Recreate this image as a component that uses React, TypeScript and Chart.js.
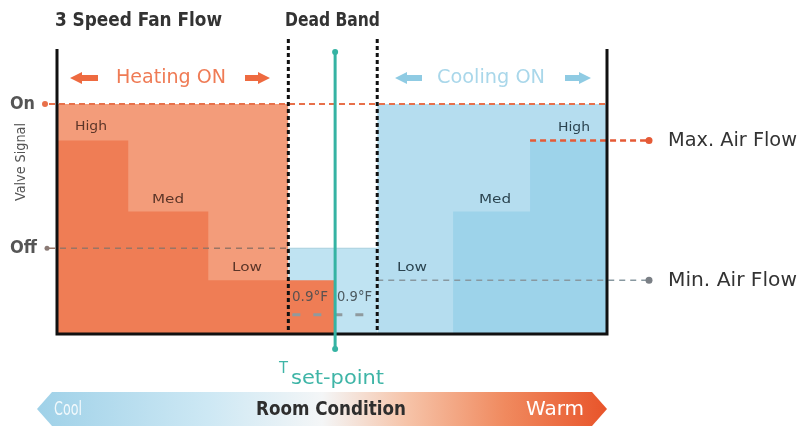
import React, { useEffect, useRef } from "react";
import { Chart, registerables } from "chart.js";

Chart.register(...registerables);

// Temperature offset from set-point (°F) of each band edge
const HEAT_EDGES = [-5.35, -3.98, -2.44, 0];
const HEAT_LEVELS = [84, 53, 23, 23];
const HEAT_ZONE = [-5.35, -0.9];
const DEAD_BAND = [-0.9, 0.81];
const COOL_ZONE = [0.81, 5.23];
const COOL_EDGES = [2.27, 3.75, 5.23];
const COOL_LEVELS = [53, 84, 84];
// Valve signal levels (%)
const ON_LEVEL = 100;
const OFF_LEVEL = 37;
const MIN_FLOW = 23;
const MAX_FLOW = 84;
const SETPOINT = 0;

const FAM = "'DejaVu Sans Condensed', 'Liberation Sans Narrow', Arial, sans-serif";

function txt(ctx: CanvasRenderingContext2D, s: string, left: number, cy: number, size: number, width: number, color: string, weight = "normal") {
  ctx.save();
  ctx.font = `${weight} ${size}px ${FAM}`;
  ctx.textBaseline = "middle";
  ctx.textAlign = "left";
  ctx.fillStyle = color;
  const w = ctx.measureText(s).width;
  const k = width / w;
  ctx.translate(left, cy);
  ctx.scale(k, 1);
  ctx.fillText(s, 0, 0);
  ctx.restore();
}

function hline(ctx: CanvasRenderingContext2D, x1: number, x2: number, y: number, color: string, w: number, dash: number[]) {
  ctx.save();
  ctx.strokeStyle = color;
  ctx.lineWidth = w;
  ctx.setLineDash(dash);
  ctx.beginPath();
  ctx.moveTo(x1, y);
  ctx.lineTo(x2, y);
  ctx.stroke();
  ctx.restore();
}

function vline(ctx: CanvasRenderingContext2D, x: number, y1: number, y2: number, color: string, w: number, dash: number[]) {
  ctx.save();
  ctx.strokeStyle = color;
  ctx.lineWidth = w;
  ctx.setLineDash(dash);
  ctx.beginPath();
  ctx.moveTo(x, y1);
  ctx.lineTo(x, y2);
  ctx.stroke();
  ctx.restore();
}

function dot(ctx: CanvasRenderingContext2D, x: number, y: number, r: number, color: string) {
  ctx.save();
  ctx.fillStyle = color;
  ctx.beginPath();
  ctx.arc(x, y, r, 0, Math.PI * 2);
  ctx.fill();
  ctx.restore();
}

function arrow(ctx: CanvasRenderingContext2D, tip: number, tail: number, cy: number, color: string) {
  const dir = tail > tip ? 1 : -1;
  const head = 12 * dir;
  ctx.save();
  ctx.fillStyle = color;
  ctx.beginPath();
  ctx.moveTo(tip, cy);
  ctx.lineTo(tip + head, cy - 6);
  ctx.lineTo(tip + head, cy - 3);
  ctx.lineTo(tail, cy - 3);
  ctx.lineTo(tail, cy + 3);
  ctx.lineTo(tip + head, cy + 3);
  ctx.lineTo(tip + head, cy + 6);
  ctx.closePath();
  ctx.fill();
  ctx.restore();
}

const overlay = {
  id: "overlay",
  beforeDraw(chart: any) {
    const ctx = chart.ctx;
    ctx.save();
    ctx.fillStyle = "#ffffff";
    ctx.fillRect(0, 0, chart.width, chart.height);
    ctx.restore();
  },
  afterDatasetsDraw(chart: any) {
    const ctx: CanvasRenderingContext2D = chart.ctx;
    const xs = chart.scales.x;
    const ys = chart.scales.y;
    const ca = chart.chartArea;
    const X = (v: number) => xs.getPixelForValue(v);
    const Y = (v: number) => ys.getPixelForValue(v);

    const yOn = Y(ON_LEVEL);
    const yOff = Y(OFF_LEVEL);
    const yMin = Y(MIN_FLOW);
    const yMax = Y(MAX_FLOW);
    const xDb1 = X(DEAD_BAND[0]);
    const xDb2 = X(DEAD_BAND[1]);
    const xSp = X(SETPOINT);

    // reference dashed lines
    hline(ctx, ca.left - 8, ca.right, yOn, "#e8704a", 2, [6, 4]);
    dot(ctx, ca.left - 12, yOn, 3, "#e8704a");
    hline(ctx, ca.left - 8, xDb1, yOff, "#9a7565", 1.5, [6, 5]);
    dot(ctx, ca.left - 10, yOff, 2.5, "#8a7a75");
    hline(ctx, xDb1, xDb2, yOff, "#a9cfdd", 1.2, []);
    hline(ctx, xDb2, ca.right + 40, yMin, "#8898a0", 1.5, [6, 5]);
    dot(ctx, ca.right + 42, yMin, 3.5, "#7a7f85");
    hline(ctx, X(COOL_EDGES[1]), ca.right + 40, yMax, "#e55a36", 2.5, [6, 4]);
    dot(ctx, ca.right + 42, yMax, 3.5, "#e55a36");
    // small grey dashes inside dead band
    hline(ctx, xDb1 + 4, xDb2 - 8, Y(8), "#8f9a9e", 3, [8, 13]);

    // axis frame
    ctx.save();
    ctx.strokeStyle = "#111";
    ctx.lineWidth = 3;
    ctx.beginPath();
    ctx.moveTo(ca.left, ca.top);
    ctx.lineTo(ca.left, ca.bottom + 1);
    ctx.lineTo(ca.right, ca.bottom + 1);
    ctx.lineTo(ca.right, ca.top);
    ctx.stroke();
    ctx.restore();

    // dead band borders
    vline(ctx, xDb1, ca.top - 10, ca.bottom + 2, "#111", 3, [4, 3]);
    vline(ctx, xDb2, ca.top - 10, ca.bottom + 2, "#111", 3, [4, 3]);

    // set-point line
    vline(ctx, xSp, ca.top + 2, ca.bottom + 16, "#35b3a3", 3, []);
    dot(ctx, xSp, ca.top + 3, 3, "#35b3a3");
    dot(ctx, xSp, ca.bottom + 16, 3, "#35b3a3");

    // titles
    txt(ctx, "3 Speed Fan Flow", 55, 21, 19, 167, "#333", "bold");
    txt(ctx, "Dead Band", 285, 21, 19, 95, "#333", "bold");

    txt(ctx, "Heating ON", 116, 78, 20, 110, "#ef7b55");
    arrow(ctx, 70, 98, 78, "#ee6a40");
    arrow(ctx, 270, 245, 78, "#ee6a40");
    txt(ctx, "Cooling ON", 437, 78, 20, 108, "#a9d7ea");
    arrow(ctx, 395, 422, 78, "#8fcbe3");
    arrow(ctx, 591, 565, 78, "#8fcbe3");

    txt(ctx, "On", 10, yOn, 18, 25, "#555", "bold");
    txt(ctx, "Off", 10, yOff, 18, 27, "#555", "bold");

    ctx.save();
    ctx.translate(21, 162);
    ctx.rotate(-Math.PI / 2);
    txt(ctx, "Valve Signal", -39, 0, 14, 78, "#555");
    ctx.restore();

    // step labels
    txt(ctx, "High", 75, 127, 13, 32, "#5b3528");
    txt(ctx, "Med", 152, 200, 13, 32, "#5b3528");
    txt(ctx, "Low", 232, 268, 13, 30, "#5b3528");
    txt(ctx, "High", 558, 128, 13, 32, "#2b4450");
    txt(ctx, "Med", 479, 200, 13, 32, "#2b4450");
    txt(ctx, "Low", 397, 268, 13, 30, "#2b4450");
    txt(ctx, "0.9°F", 292, 297, 14, 36, "#5a5250");
    txt(ctx, "0.9°F", 337, 297, 14, 35, "#4d5a60");

    txt(ctx, "Max. Air Flow", 668, yMax, 20, 129, "#333");
    txt(ctx, "Min. Air Flow", 668, yMin, 20, 129, "#333");

    txt(ctx, "T", 279, 369, 15, 9, "#3fb5a7");
    txt(ctx, "set-point", 291, 379, 19, 93, "#3fb5a7");

    // room condition arrow
    ctx.save();
    const g = ctx.createLinearGradient(37, 0, 607, 0);
    g.addColorStop(0, "#9fd1e8");
    g.addColorStop(0.3, "#cde8f4");
    g.addColorStop(0.5, "#f4f6f7");
    g.addColorStop(0.65, "#f6c3a8");
    g.addColorStop(0.82, "#f08a5f");
    g.addColorStop(1, "#e8542a");
    ctx.fillStyle = g;
    ctx.beginPath();
    ctx.moveTo(37, 409);
    ctx.lineTo(52, 392);
    ctx.lineTo(592, 392);
    ctx.lineTo(607, 409);
    ctx.lineTo(592, 426);
    ctx.lineTo(52, 426);
    ctx.closePath();
    ctx.fill();
    ctx.restore();
    txt(ctx, "Cool", 54, 410, 20, 28, "rgba(255,255,255,0.85)");
    txt(ctx, "Room Condition", 256, 410, 20, 150, "#2e2e2e", "bold");
    txt(ctx, "Warm", 526, 410, 20, 58, "#ffffff");
  },
};

export default function App() {
  const ref = useRef<HTMLCanvasElement | null>(null);

  useEffect(() => {
    if (!ref.current) return;
    const heatSteps = HEAT_EDGES.map((x, i) => ({ x, y: HEAT_LEVELS[i] }));
    const coolSteps = COOL_EDGES.map((x, i) => ({ x, y: COOL_LEVELS[i] }));
    const chart = new Chart(ref.current, {
      type: "line",
      data: {
        datasets: [
          {
            label: "Heating steps",
            data: heatSteps,
            stepped: "before",
            fill: "origin",
            backgroundColor: "#ef7d55",
            borderWidth: 0,
            pointRadius: 0,
            order: 1,
          },
          {
            label: "Cooling steps",
            data: coolSteps,
            stepped: "before",
            fill: "origin",
            backgroundColor: "#9dd3ea",
            borderWidth: 0,
            pointRadius: 0,
            order: 1,
          },
          {
            label: "Heating zone",
            data: HEAT_ZONE.map((x) => ({ x, y: ON_LEVEL })),
            fill: "origin",
            backgroundColor: "#f39c7a",
            borderWidth: 0,
            pointRadius: 0,
            order: 2,
          },
          {
            label: "Dead band",
            data: DEAD_BAND.map((x) => ({ x, y: OFF_LEVEL })),
            fill: "origin",
            backgroundColor: "#bfe3f2",
            borderWidth: 0,
            pointRadius: 0,
            order: 2,
          },
          {
            label: "Cooling zone",
            data: COOL_ZONE.map((x) => ({ x, y: ON_LEVEL })),
            fill: "origin",
            backgroundColor: "#b5ddef",
            borderWidth: 0,
            pointRadius: 0,
            order: 2,
          },
        ],
      },
      options: {
        animation: false,
        responsive: false,
        maintainAspectRatio: false,
        events: [],
        layout: { padding: { left: 57, right: 192, top: 49, bottom: 95 } },
        plugins: { legend: { display: false }, tooltip: { enabled: false }, title: { display: false } },
        scales: {
          x: { type: "linear", min: -5.35, max: 5.23, display: false },
          y: { type: "linear", min: 0, max: 124, display: false },
        },
      },
      plugins: [overlay],
    });
    return () => chart.destroy();
  }, []);

  return (
    <div style={{ position: "fixed", left: 0, top: 0, width: 799, height: 428, background: "#fff" }}>
      <canvas ref={ref} width={799} height={428} style={{ width: 799, height: 428, display: "block" }} />
    </div>
  );
}
